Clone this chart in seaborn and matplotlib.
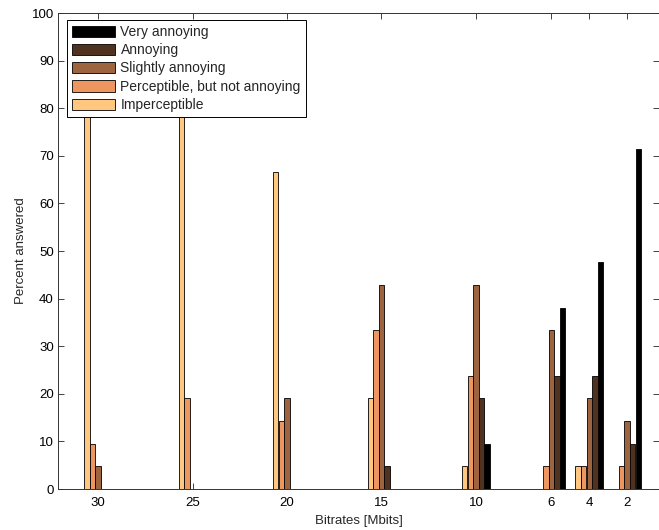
import matplotlib
matplotlib.use("Agg")
import matplotlib.pyplot as plt
import seaborn as sns
import pandas as pd
import numpy as np

# Bitrates tested (Mbit/s) and the share of answers per impairment level
bitrates = [30, 25, 20, 15, 10, 6, 4, 2]
levels = ["Very annoying", "Annoying", "Slightly annoying",
          "Perceptible, but not annoying", "Imperceptible"]

very_annoying = [0, 0, 0, 0, 9.52, 38.10, 47.62, 71.43]
annoying = [0, 0, 0, 4.76, 19.05, 23.81, 23.81, 9.52]
slightly_annoying = [4.76, 0, 19.05, 42.86, 42.86, 33.33, 19.05, 14.29]
perceptible = [9.52, 19.05, 14.29, 33.33, 23.81, 4.76, 4.76, 4.76]
imperceptible = [85.71, 80.95, 66.67, 19.05, 4.76, 0, 4.76, 0]

series = [very_annoying, annoying, slightly_annoying, perceptible, imperceptible]
rows = []
for level, vals in zip(levels, series):
    for b, v in zip(bitrates, vals):
        rows.append({"Bitrate": b, "Percent": v, "Level": level})
df = pd.DataFrame(rows)

# copper colormap: black -> light copper
cmap = matplotlib.colormaps["copper"]
palette = [cmap(x) for x in np.linspace(0, 1, len(levels))]

sns.set_style("ticks")
plt.rcParams["font.family"] = ["Liberation Sans", "DejaVu Sans"]
plt.rcParams["font.size"] = 9.5

fig = plt.figure(figsize=(6.59, 5.30), dpi=100)
W, H = 659, 530
ax = fig.add_axes([58 / W, (H - 489) / H, (659 - 58) / W, (489 - 13) / H])

sns.barplot(data=df, x="Bitrate", y="Percent", hue="Level", hue_order=levels,
            palette=palette, saturation=1, native_scale=True, width=0.74,
            gap=0.04, errorbar=None, edgecolor="black", linewidth=0.6, ax=ax)

ax.set_xlim(32.12, 0.31)
ax.set_ylim(0, 100)
ax.set_xticks(bitrates)
ax.set_xticklabels([str(b) for b in bitrates])
ax.set_yticks(range(0, 101, 10))
ax.tick_params(direction="in", top=True, right=True, length=4, width=0.6,
               labelsize=9.5, colors="#222222", labelcolor="black")
ax.tick_params(axis="y", pad=3)
ax.tick_params(axis="x", pad=6)
for sp in ax.spines.values():
    sp.set_visible(True)
    sp.set_color("#333333")
    sp.set_linewidth(0.7)

ax.set_xlabel("Bitrates [Mbits]", fontsize=9.5, labelpad=4)
ax.set_ylabel("Percent answered", fontsize=9.5, labelpad=3)

handles, labels = ax.get_legend_handles_labels()
ax.legend(handles, labels, loc="upper left",
          bbox_to_anchor=((67 - 58) / 601, (489 - 20) / 476),
          borderaxespad=0, frameon=True, fancybox=False, edgecolor="black",
          framealpha=1, fontsize=10, handlelength=3.1, handleheight=0.85,
          handletextpad=0.4, labelspacing=0.31, borderpad=0.35)
ax.get_legend().get_frame().set_linewidth(0.7)

fig.savefig("out.png", dpi=100)
